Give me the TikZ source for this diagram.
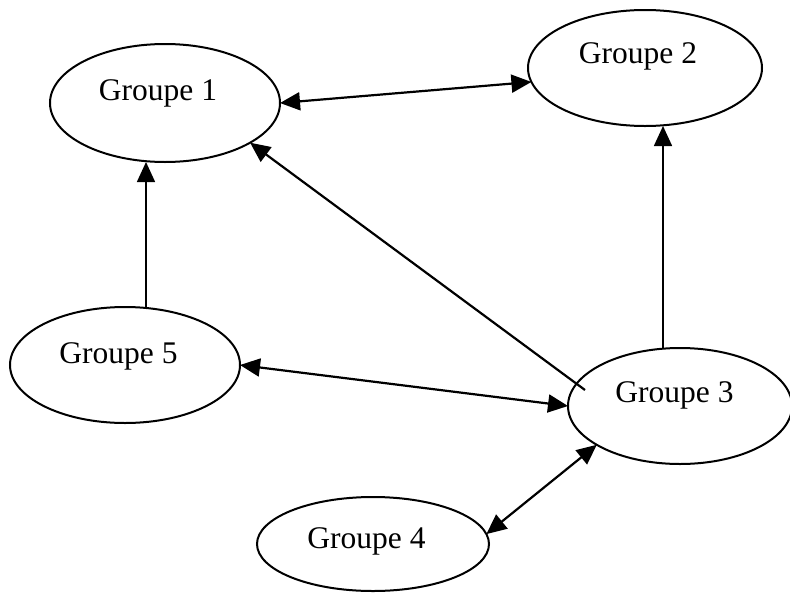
\documentclass[tikz,border=0pt]{standalone}
\usepackage{fontspec}
\setmainfont{Liberation Serif}
\usetikzlibrary{shapes.geometric,arrows.meta}
\begin{document}
\begin{tikzpicture}[x=1pt,y=-1pt,
  grp/.style={draw,ellipse,line width=2pt,inner sep=0pt,outer sep=0pt},
  lbl/.style={anchor=base,inner sep=0pt,font=\fontsize{31.5}{38}\selectfont},
  tip/.style={-{Triangle[length=20pt,width=18pt]},line width=2.2pt},
  dtip/.style={{Triangle[length=20pt,width=18pt]}-{Triangle[length=20pt,width=18pt]},line width=2.2pt}]
\useasboundingbox (0,0) rectangle (790,592);
\node[grp,minimum width=230,minimum height=118] (g1) at (165,103) {};
\node[grp,minimum width=234,minimum height=116] (g2) at (645,68) {};
\node[grp,minimum width=230,minimum height=116] (g5) at (125,365) {};
\node[grp,minimum width=224,minimum height=116] (g3) at (680,406) {};
\node[grp,minimum width=232,minimum height=94] (g4) at (373,544) {};
\node[lbl] (t1) at (158,100) {Groupe 1};
\node[lbl] (t2) at (638,63) {Groupe 2};
\node[lbl] (t5) at (118.5,363) {Groupe 5};
\node[lbl] (t3) at (674.5,402) {Groupe 3};
\node[lbl] (t4) at (366.5,548) {Groupe 4};
\coordinate (v2) at (663,0);
\coordinate (v1) at (146,0);
\coordinate (g3in) at ([shift={(-95,-16)}]g3.center);
\draw[dtip] (g1.0) -- (g2.187);
\draw[tip,line width=1.6pt] (v2 |- g3.north) -- (v2 |- g2.south);
\draw[tip,line width=1.6pt] (v1 |- g5.north) -- (v1 |- g1.south);
\draw[tip] (g3in) -- (g1.-25);
\draw[dtip] (g5.east) -- (g3.west);
\draw[dtip] (g4.5) -- (g3.205);
\end{tikzpicture}
\end{document}
